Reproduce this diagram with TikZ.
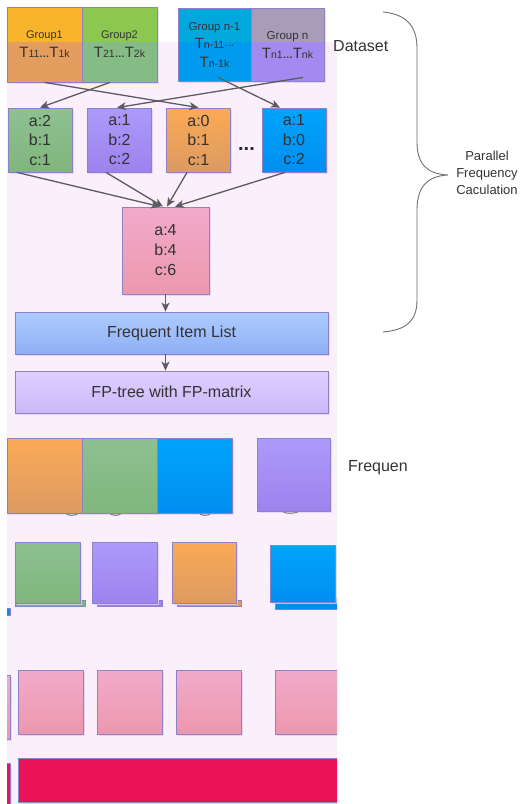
\documentclass[tikz,border=0pt]{standalone}
\usepackage{fontspec}
\setmainfont{Liberation Sans}
\usetikzlibrary{arrows.meta,calc,shadows}
\definecolor{bgpink}{HTML}{FCEFFC}
\definecolor{boxborder}{HTML}{8C82C8}
\definecolor{arrgray}{HTML}{5C5C5C}
\definecolor{txt}{HTML}{333333}
\definecolor{g1top}{HTML}{F8B42A}\definecolor{g1bot}{HTML}{E29D5F}
\definecolor{g2top}{HTML}{8CC850}\definecolor{g2bot}{HTML}{85BC85}
\definecolor{gn1top}{HTML}{00A8DE}\definecolor{gn1bot}{HTML}{009AEE}
\definecolor{gntop}{HTML}{A89CB8}\definecolor{gnbot}{HTML}{A48AF0}
\definecolor{grnA}{HTML}{8EC092}\definecolor{grnB}{HTML}{80B67C}
\definecolor{purA}{HTML}{AC9AFA}\definecolor{purB}{HTML}{9C82EE}
\definecolor{orA}{HTML}{FBAA55}\definecolor{orB}{HTML}{DC9A62}
\definecolor{bluA}{HTML}{00A4FA}\definecolor{bluB}{HTML}{008EF0}
\definecolor{pinkA}{HTML}{F2AACA}\definecolor{pinkB}{HTML}{EC98AE}
\definecolor{filA}{HTML}{AECBFF}\definecolor{filB}{HTML}{8EAFF5}
\definecolor{fptA}{HTML}{DDD0FF}\definecolor{fptB}{HTML}{CBB8F8}
\definecolor{crimson}{HTML}{EC1258}
\definecolor{bracegray}{HTML}{707070}
\definecolor{shad}{HTML}{E0D0F8}
\newcommand\fs[2]{\fontsize{#1}{#2}\selectfont}
\newcommand\Tsub[2]{{\fs{15}{#2}T}{\fs{10.5}{#2}#1}}
\newcommand\elp[1]{{\fs{10}{#1}\bfseries …}}
\tikzset{
  box/.style={draw=boxborder, line width=0.8pt, inner sep=0pt, text=txt, align=center,
    drop shadow={shadow xshift=1.5pt, shadow yshift=-1.5pt, fill=shad, opacity=0.8}},
  ledge/.style={draw=boxborder, line width=0.8pt, inner sep=0pt},
  grad/.style 2 args={top color=#1, bottom color=#2},
  toppart/.style 2 args={path picture={\fill[#1] (path picture bounding box.north west) rectangle ([yshift=-#2]path picture bounding box.north east);}},
  arr/.style={draw=arrgray, line width=1.3pt, -{Stealth[length=9pt,width=8pt,inset=2.5pt]}},
  stub/.style={draw=arrgray!80, line width=1pt},
  sq/.style={box, minimum width=64pt, minimum height=64pt, font=\fs{16}{19.5}},
}
\begin{document}
\begin{tikzpicture}[x=1pt,y=-1pt]
\useasboundingbox (0,0) rectangle (527,804);
\fill[white] (0,0) rectangle (527,804);
\fill[bgpink] (7,41.5) rectangle (337,804);

% ---- dataset groups
\node[box, minimum width=75pt, minimum height=75pt, fill=g1bot, toppart={g1top}{34.5pt}, font=\fs{11}{19}] (g1) at (44.5,44.5)
  {Group1\\\Tsub{11}{19}\elp{19}\Tsub{1k}{19}};
\node[box, minimum width=75pt, minimum height=75pt, fill=g2bot, toppart={g2top}{34.5pt}, font=\fs{11}{19}] (g2) at (119.5,44.5)
  {Group2\\\Tsub{21}{19}\elp{19}\Tsub{2k}{19}};
\node[box, minimum width=73pt, minimum height=73pt, fill=gn1bot, toppart={gn1top}{33.5pt}, font=\fs{11.5}{18.5}] (gn1) at (214.5,44.5)
  {Group n-1\\\Tsub{n-11}{18.5}{\fs{10}{18.5}···}\\\Tsub{n-1k}{18.5}};
\node[box, minimum width=73pt, minimum height=73pt, fill=gnbot, toppart={gntop}{33.5pt}, font=\fs{11.5}{19}] (gn) at (287.5,44.5)
  {Group n\\\Tsub{n1}{19}\elp{19}\Tsub{nk}{19}};
\node[anchor=base west, font=\fs{16}{19}, text=txt, inner sep=0pt] (ds) at (333,51.5) {Dataset};

% ---- partial frequency boxes
\node[sq, grad={grnA}{grnB}] (b1) at (40,140) {a:2\\b:1\\c:1};
\node[sq, grad={purA}{purB}] (b2) at (119.5,140) {a:1\\b:2\\c:2};
\node[sq, grad={orA}{orB}] (b3) at (198.5,140) {a:0\\b:1\\c:1};
\node[sq, grad={bluA}{bluB}] (b4) at (294,140) {a:1\\b:0\\c:2};
\node[anchor=base, font=\fs{20}{19}\bfseries, text=black!85, inner sep=0pt] (dots) at (246.5,150) {...};

% ---- sum box
\node[box, minimum width=87pt, minimum height=87pt, grad={pinkA}{pinkB}, font=\fs{16}{20}] (sum) at (165.5,250.5) {a:4\\b:4\\c:6};

% ---- list and tree
\node[box, minimum width=313pt, minimum height=42pt, grad={filA}{filB}, font=\fs{16}{19}] (fil) at (171.5,333) {Frequent Item List};
\node[box, minimum width=313pt, minimum height=42pt, grad={fptA}{fptB}, font=\fs{16}{19}] (fpt) at (171.5,392) {FP-tree with FP-matrix};

% ---- arrows top -> row 2
\draw[arr] (g1.south) -- (b3.north);
\draw[arr] ($(g2.south)+(-9.5,0)$) -- (b1.north);
\draw[arr] ($(gn.south)+(15.5,-4)$) -- ($(b2.north)+(-2.5,0)$);
\draw[arr] ($(gn1.south)+(3.5,-4)$) -- ($(b4.north)+(-14,0)$);

% ---- arrows row 2 -> sum
\draw[arr] ($(b1.south)+(-23,0)$) -- ($(sum.north)+(-5.5,0)$);
\draw[arr] ($(b2.south)+(-13.5,0)$) -- ($(sum.north)+(-2.5,0)$);
\draw[arr] ($(b3.south)+(-11.5,0)$) -- ($(sum.north)+(1.5,0)$);
\draw[arr] ($(b4.south)+(-9,0)$) -- ($(sum.north)+(9.5,0)$);

\draw[arr] (sum.south) -- (sum.south |- fil.north);
\draw[arr] (fil.south -| sum.south) -- (fpt.north -| sum.south);

% ---- brace and label
\draw[bracegray, line width=0.9pt] (383,12) .. controls (405,14) and (417,25) .. (417,48) -- (417,142)
  .. controls (417,165) and (428,174) .. (448,175) .. controls (428,176) and (417,186) .. (417,210)
  -- (417,300) .. controls (417,322) and (405,330) .. (383,332);
\node[align=center, font=\fs{13}{17}, text=txt, inner sep=0pt] (pfc) at (487,172.5) {Parallel\\Frequency\\Caculation};

\node[anchor=base west, font=\fs{16}{19}, text=txt, inner sep=0pt] (freq) at (348,471.5) {Frequen};

% ---- lower, cut-off part
\begin{scope}
\clip (7,420) rectangle (337,804);
% row A
\node[box, minimum width=75pt, minimum height=75pt, grad={orA}{orB}] (la1) at (44.5,475.5) {};
\node[box, minimum width=75pt, minimum height=75pt, grad={grnA}{grnB}] (la2) at (119.5,475.5) {};
\node[box, minimum width=75pt, minimum height=75pt, grad={bluA}{bluB}] (la3) at (194.5,475.5) {};
\node[box, minimum width=73pt, minimum height=73pt, grad={purA}{purB}] (la4) at (293.5,474.5) {};
\coordinate (s1) at ($(la1.south)+(22,1)$);
\coordinate (s2) at ($(la2.south)+(-9,1)$);
\coordinate (s3) at ($(la3.south)+(5.5,1)$);
\coordinate (s4) at ($(la4.south)+(-10,1)$);
\draw[stub] (s1) .. controls ($(s1)+(5,1.2)$) .. ($(s1)+(11,0)$);
\draw[stub] (s2) .. controls ($(s2)+(5,1.2)$) .. ($(s2)+(10,0)$);
\draw[stub] (s3) .. controls ($(s3)+(5,1.2)$) .. ($(s3)+(10,0)$);
\draw[stub] (s4) .. controls ($(s4)+(6,1.2)$) .. ($(s4)+(14,0)$);
% row B (with ledges)
\node[ledge, minimum width=70pt, minimum height=6pt, fill=grnB] (lb1s) at (50,603) {};
\node[box, minimum width=65pt, minimum height=61pt, grad={grnA}{grnB}] (lb1) at (47.5,572.5) {};
\node[ledge, minimum width=65pt, minimum height=6pt, fill=purB] (lb2s) at (129.5,603) {};
\node[box, minimum width=65pt, minimum height=61pt, grad={purA}{purB}] (lb2) at (124.5,572.5) {};
\node[ledge, minimum width=64pt, minimum height=6pt, fill=orB] (lb3s) at (209,603) {};
\node[box, minimum width=64pt, minimum height=61pt, grad={orA}{orB}] (lb3) at (204,572.5) {};
\node[ledge, minimum width=65pt, minimum height=11pt, fill=bluB] (lb4s) at (307.5,603.5) {};
\node[box, minimum width=65pt, minimum height=57pt, grad={bluA}{bluB}] (lb4) at (302.5,573.5) {};
\node[ledge, minimum width=20pt, minimum height=7pt, fill=bluB] (lb0) at (0,611.5) {};
% row C
\node[box, minimum width=65pt, minimum height=64pt, grad={pinkA}{pinkB}] (lc0) at (-22.5,707) {};
\node[box, minimum width=65pt, minimum height=64pt, grad={pinkA}{pinkB}] (lc1) at (50.5,702) {};
\node[box, minimum width=65pt, minimum height=64pt, grad={pinkA}{pinkB}] (lc2) at (129.5,702) {};
\node[box, minimum width=65pt, minimum height=64pt, grad={pinkA}{pinkB}] (lc3) at (208.5,702) {};
\node[box, minimum width=65pt, minimum height=64pt, grad={pinkA}{pinkB}] (lc4) at (307.5,702) {};
% bottom bar
\node[box, minimum width=60pt, minimum height=50pt, fill=crimson] (ld0) at (-20,788) {};
\node[box, minimum width=330pt, minimum height=44pt, fill=crimson] (ld1) at (183,780) {};
\end{scope}
\end{tikzpicture}
\end{document}
